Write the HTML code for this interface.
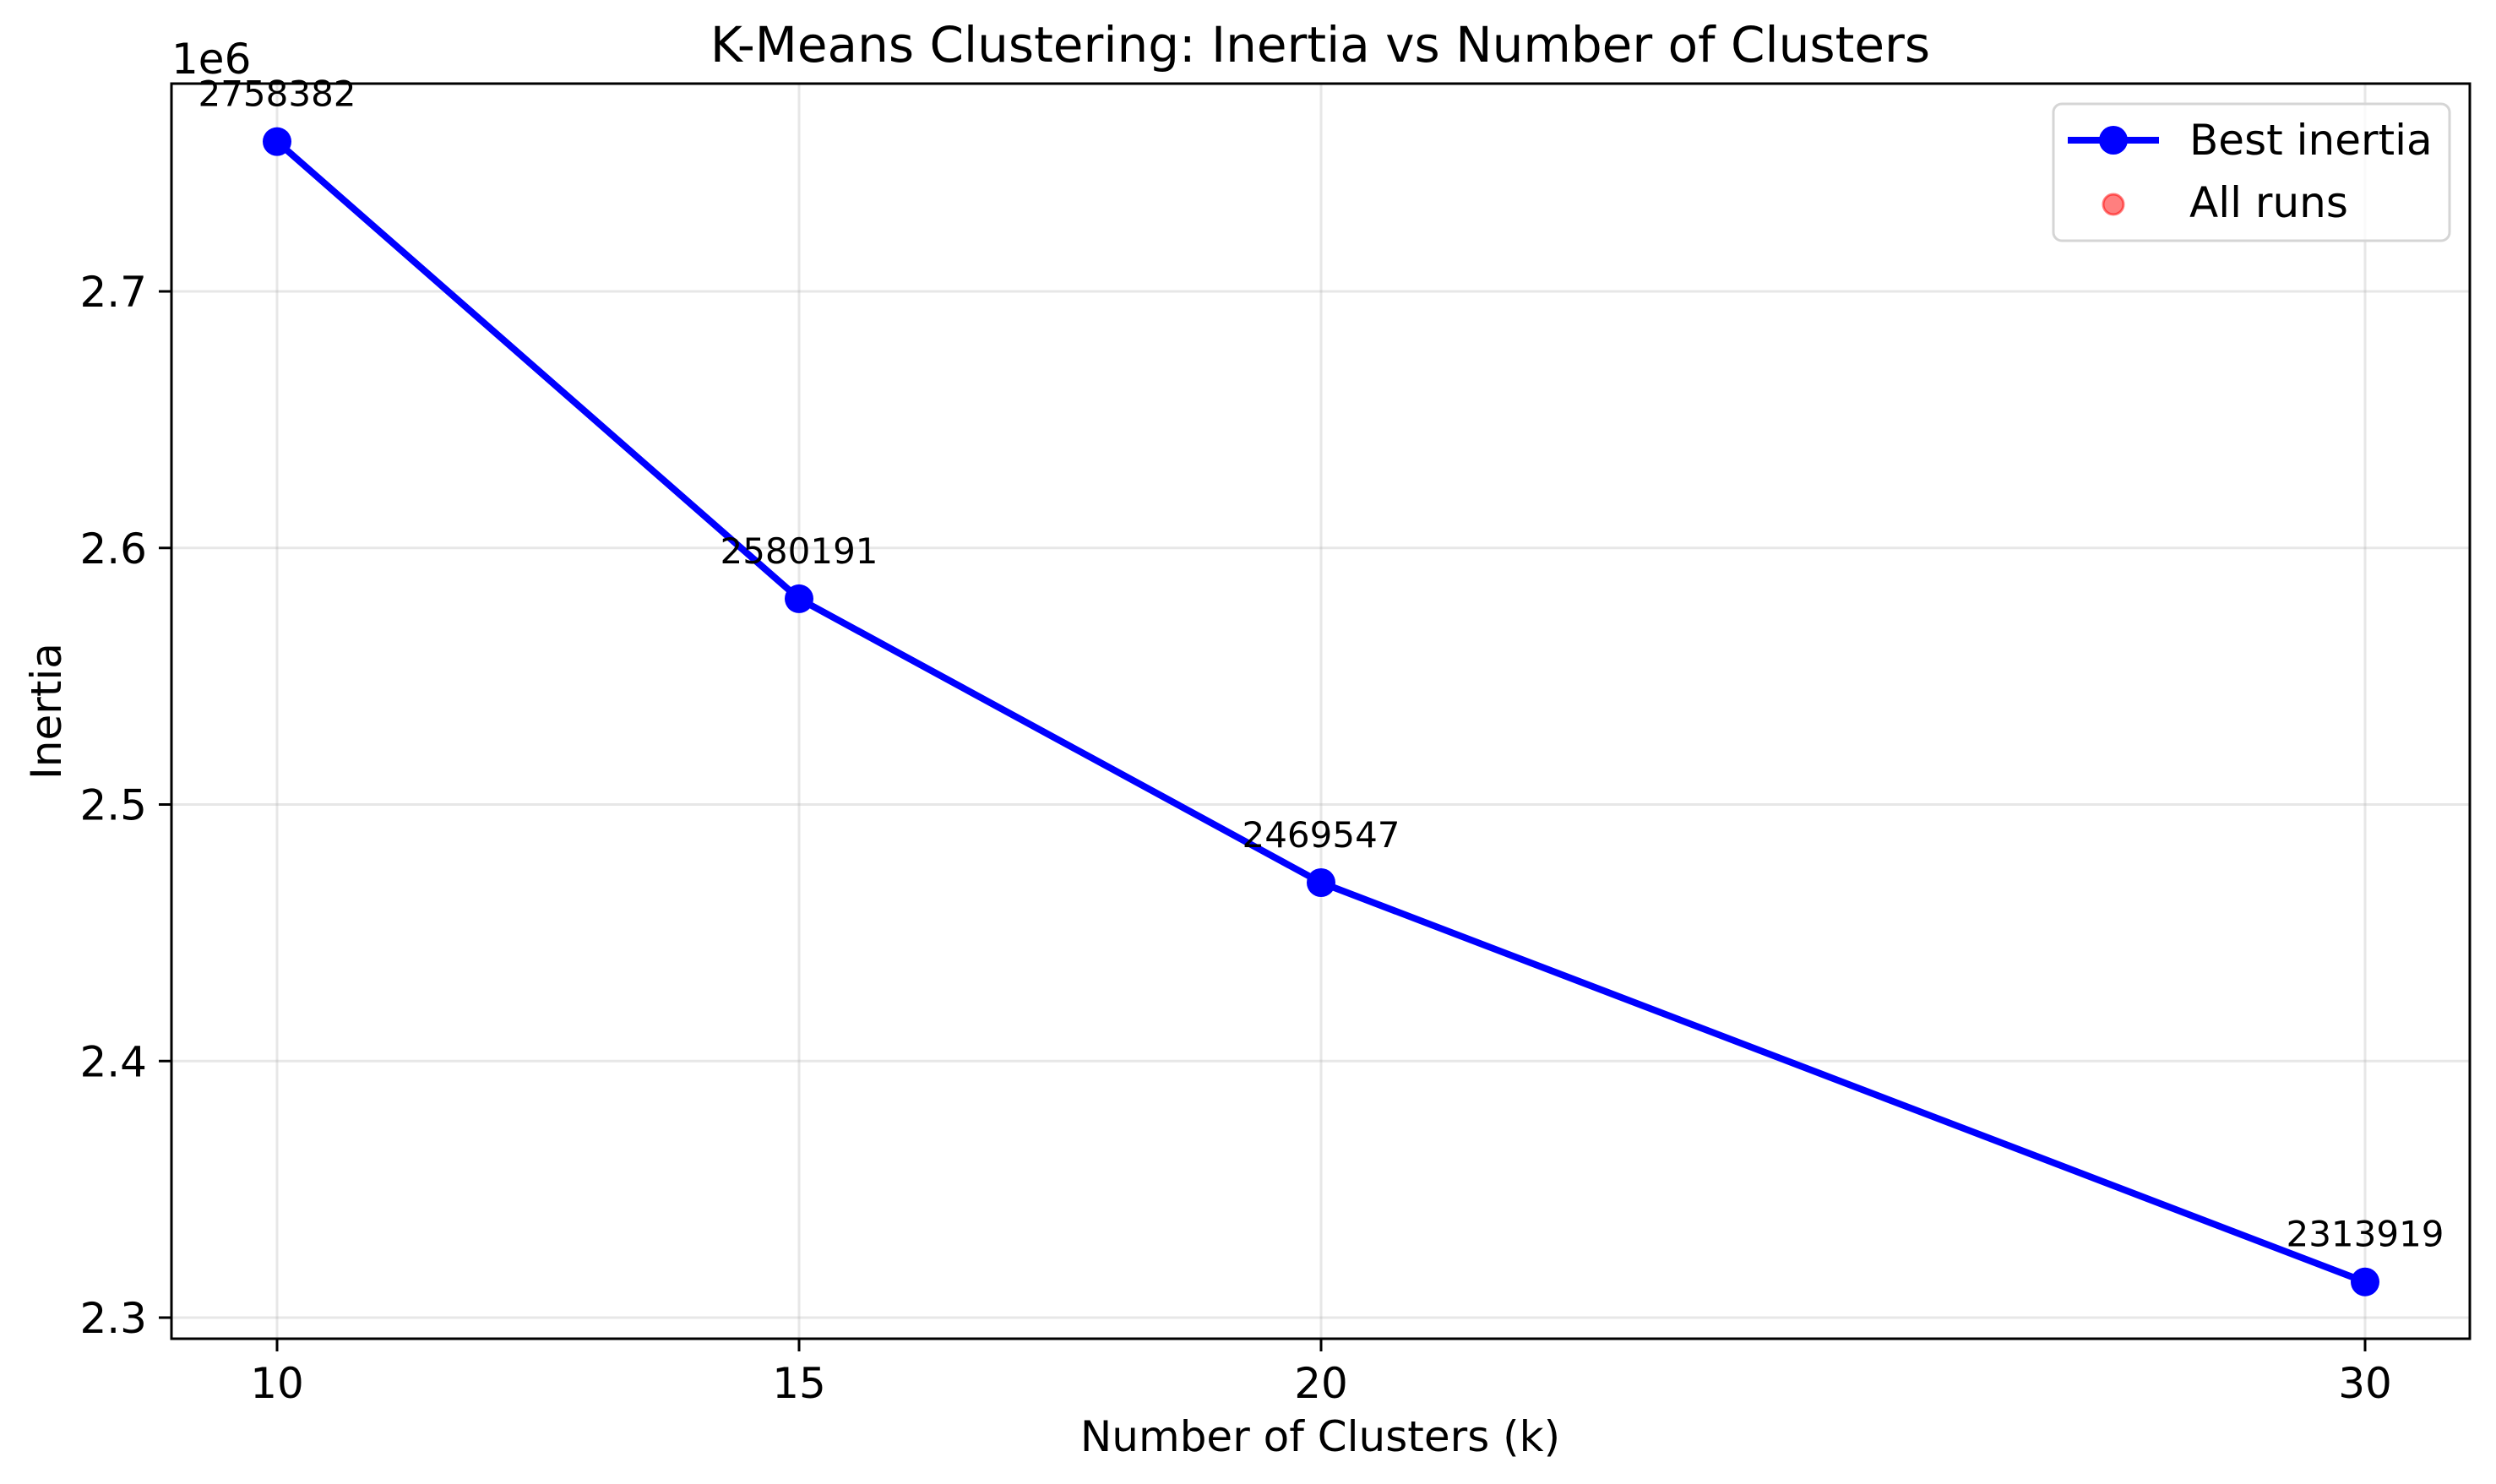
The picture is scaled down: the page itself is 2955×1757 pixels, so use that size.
<!DOCTYPE html>
<html><head><meta charset="utf-8"><style>body{margin:0;background:#fff}svg{display:block}text{font-family:"DejaVu Sans","Liberation Sans",sans-serif}</style></head>
<body>
<svg id="chart" width="2955" height="1757" xmlns="http://www.w3.org/2000/svg">
<rect width="2955" height="1757" fill="#fff"/>
<g id="grid"></g>
<g id="plot"></g>
<rect x="203" y="99" width="2721" height="1486" fill="none" stroke="#000" stroke-width="3"/>
<g id="ticks"></g>
<text x="1563" y="73" font-size="58" text-anchor="middle">K-Means Clustering: Inertia vs Number of Clusters</text>
<text x="1563" y="1718" font-size="50" text-anchor="middle">Number of Clusters (k)</text>
<text transform="translate(72,842) rotate(-90)" font-size="50" text-anchor="middle">Inertia</text>
<text x="203" y="87" font-size="50">1e6</text>
<g>
<rect x="2431" y="123" width="469" height="162" rx="10" fill="#fff" fill-opacity="0.8" stroke="#d5d5d5" stroke-width="3"/>
<line x1="2448" y1="166" x2="2556" y2="166" stroke="#0000ff" stroke-width="8"/>
<circle cx="2502" cy="166" r="17" fill="#0000ff"/>
<text x="2592" y="183" font-size="50">Best inertia</text>
<circle cx="2502" cy="242" r="12" fill="#ff0000" fill-opacity="0.5" stroke="#ff0000" stroke-opacity="0.5" stroke-width="3"/>
<text x="2592" y="257" font-size="50">All runs</text>
</g>
</svg>
<script>
const ks = [10, 15, 20, 30];
const inertia = [2758382, 2580191, 2469547, 2313919];
const xTicks = [10, 15, 20, 30];
const yTicks = [2.3, 2.4, 2.5, 2.6, 2.7];
const NS = 'http://www.w3.org/2000/svg';
function X(k){ return 328 + (k - 10) * 123.6; }
function Y(v){ return 1560 - (v / 1e6 - 2.3) * 3037.5; }
function mk(tag, attrs, parent){ const e = document.createElementNS(NS, tag); for (const a in attrs) e.setAttribute(a, attrs[a]); parent.appendChild(e); return e; }
const grid = document.getElementById('grid'), plot = document.getElementById('plot'), ticks = document.getElementById('ticks');
xTicks.forEach(t => {
  const g = mk('line', {x1: X(t), x2: X(t), y1: 99, y2: 1585, stroke: '#b0b0b0', 'stroke-opacity': 0.3, 'stroke-width': 3}, grid);
  
  
  const tk = mk('line', {x1: X(t), x2: X(t), y1: 1585, y2: 1600, stroke: '#000', 'stroke-width': 3}, ticks);
  
  
  const tl = mk('text', {x: X(t), y: 1655, 'font-size': 50, 'text-anchor': 'middle'}, ticks);
  tl.textContent = t;
  
  
});
yTicks.forEach(t => {
  const y = Y(t * 1e6);
  const g = mk('line', {x1: 203, x2: 2924, y1: y, y2: y, stroke: '#b0b0b0', 'stroke-opacity': 0.3, 'stroke-width': 3}, grid);
  
  
  const tk = mk('line', {x1: 188, x2: 203, y1: y, y2: y, stroke: '#000', 'stroke-width': 3}, ticks);
  
  
  const tl = mk('text', {x: 174, y: y + 18, 'font-size': 50, 'text-anchor': 'end'}, ticks);
  tl.textContent = t.toFixed(1);
  
  
});
const pts = ks.map((k, i) => X(k) + ',' + Y(inertia[i])).join(' ');
const line = mk('polyline', {points: pts, fill: 'none', stroke: '#0000ff', 'stroke-width': 8, 'stroke-linejoin': 'round'}, plot);


ks.forEach((k, i) => {
  const c = mk('circle', {cx: X(k), cy: Y(inertia[i]), r: 17, fill: '#0000ff'}, plot);
  
  
  const t = mk('text', {x: X(k), y: Y(inertia[i]) - 42, 'font-size': 42, 'text-anchor': 'middle'}, plot);
  t.textContent = inertia[i];
  
  
});
</script>
</body></html>
